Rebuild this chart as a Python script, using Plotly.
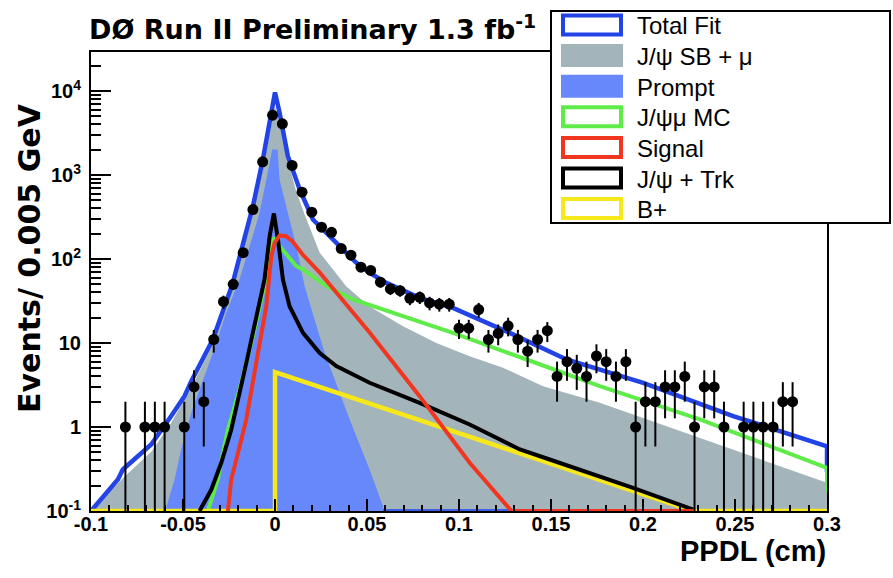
import math
import plotly.graph_objects as go

# ---------------------------------------------------------------------------
# Measured data: events per bin (bin centres in cm)
# ---------------------------------------------------------------------------
bin_x = [-0.0813, -0.0707, -0.0653, -0.0600, -0.0493, -0.0440, -0.0387, -0.0333,
         -0.0280, -0.0227, -0.0173, -0.0120, -0.0067, -0.0013, 0.0040, 0.0093,
         0.0147, 0.0200, 0.0253, 0.0307, 0.0360, 0.0413, 0.0467, 0.0520,
         0.0573, 0.0627, 0.0680, 0.0733, 0.0787, 0.0840, 0.0893, 0.0947,
         0.1000, 0.1053, 0.1107, 0.1160, 0.1213, 0.1267, 0.1320, 0.1373,
         0.1427, 0.1480, 0.1533, 0.1587, 0.1640, 0.1693, 0.1747, 0.1800,
         0.1853, 0.1907, 0.1960, 0.2013, 0.2067, 0.2120, 0.2173, 0.2227,
         0.2280, 0.2333, 0.2387, 0.2440, 0.2547, 0.2600, 0.2653, 0.2707,
         0.2760, 0.2813]
counts = [1, 1, 1, 1, 1, 3, 2, 11,
          31, 50, 119, 388, 1436, 5150, 4070, 1298,
          624, 361, 239, 208, 133, 111, 80, 73,
          53, 44, 42, 34, 35, 30, 29, 29,
          15, 15, 25, 11, 13, 16, 11, 8,
          11, 14, 4, 6, 5, 4, 7, 6,
          4, 6, 1, 2, 2, 3, 3, 4,
          1, 3, 3, 1, 1, 1, 1, 1,
          2, 2]

# ---------------------------------------------------------------------------
# Fit components (PPDL in cm, events per bin)
# ---------------------------------------------------------------------------
fit_x = [-0.1, -0.0854, -0.0827, -0.0673, -0.0564, -0.0492, -0.0455, -0.0338,
         -0.0232, -0.0193, -0.0120, -0.0066, -0.0029, 0.0, 0.0025, 0.0070,
         0.0134, 0.0206, 0.0297, 0.0388, 0.0442, 0.0514, 0.0605, 0.0786,
         0.0967, 0.1276, 0.1584, 0.2001, 0.2490, 0.3, 0.3]
fit_y = [0.1, 0.237, 0.312, 0.62, 1.35, 2.33, 3.51, 11.0,
         49.7, 108, 426, 1530, 4580, 9600, 5500, 1675,
         672, 295, 187, 119, 90, 68.5, 52, 34.5,
         26.2, 13.2, 6.36, 3.36, 1.35, 0.59, 0.29]

sb_x = [-0.1, -0.0823, -0.0671, -0.0563, -0.0454, -0.0335, -0.0232, -0.0188,
        -0.0117, -0.0062, -0.0024, 0.0, 0.0025, 0.0069, 0.0112, 0.0161,
        0.0243, 0.0388, 0.0514, 0.0696, 0.0877, 0.1058, 0.1239, 0.1457,
        0.1765, 0.2309, 0.3]
sb_y = [0.1, 0.25, 0.51, 1.13, 2.95, 9.9, 43, 93,
        367, 1300, 3670, 6500, 4200, 1520, 672, 339,
        119, 47, 27.2, 15.8, 10.0, 6.97, 5.07, 3.06,
        1.94, 0.74, 0.217]

prompt_x = [-0.0611, -0.0591, -0.0546, -0.0510, -0.0455, -0.0410, -0.0338, -0.0265,
            -0.0193, -0.0138, -0.0084, -0.0047, -0.0015, 0.0014, 0.0025, 0.0070,
            0.0116, 0.0161, 0.0270, 0.0406, 0.0514, 0.0587, 0.0590]
prompt_y = [0.1, 0.11, 0.237, 0.54, 1.49, 2.8, 7.6, 22.9,
            57, 142, 355, 884, 2013, 2013, 884, 355,
            142, 47.5, 7.6, 1.23, 0.312, 0.114, 0.1]

mc_x = [-0.0365, -0.0311, -0.0283, -0.0256, -0.0193, -0.0120, -0.0066, -0.0029,
        -0.0008, 0.0025, 0.0116, 0.0152, 0.0279, 0.0424, 0.0696, 0.0967,
        0.1367, 0.1765, 0.2309, 0.3, 0.3]
mc_y = [0.1, 0.237, 0.49, 0.93, 2.8, 12, 39.6, 104,
        180, 142, 82, 75, 47.5, 33, 20.8, 13.2,
        6.36, 3.06, 1.23, 0.327, 0.166]

sig_x = [-0.0256, -0.0238, -0.0210, -0.0156, -0.0102, -0.0047, -0.0033, -0.0020,
         -0.0002, 0.0025, 0.0061, 0.0097, 0.0150, 0.0243, 0.0514, 0.0786,
         0.1058, 0.1276, 0.1285, 0.2273]
sig_y = [0.1, 0.237, 0.41, 1.23, 5.8, 27.4, 57, 108,
         156, 190, 187, 160, 113, 69, 13.3, 2.33,
         0.375, 0.106, 0.1, 0.1]

trk_x = [-0.0410, -0.0346, -0.0292, -0.0238, -0.0156, -0.0084, -0.0057, -0.0029,
         -0.0006, 0.0016, 0.0034, 0.0043, 0.0079, 0.0152, 0.0243, 0.0333,
         0.0514, 0.0786, 0.1058, 0.1331, 0.1493, 0.1946, 0.2273]
trk_y = [0.1, 0.18, 0.375, 0.93, 5.8, 33, 57, 187,
         348, 171, 82, 57, 27.4, 13.2, 7.6, 5.3,
         3.36, 1.94, 1.07, 0.54, 0.41, 0.189, 0.104]

bp_x = [-0.1, 0.0, 0.0, 0.1330, 0.1765, 0.2273, 0.3]
bp_y = [0.1, 0.1, 4.5, 0.49, 0.237, 0.1, 0.1]

# prompt component sitting at the zero level after its tail ends
prompt_zero_x = [0.0587, 0.1285]
prompt_zero_y = [0.1, 0.1]

# axis ticks
x_tick_vals = [-0.1, -0.05, 0, 0.05, 0.1, 0.15, 0.2, 0.25, 0.3]
x_tick_text = ["-0.1", "-0.05", "0", "0.05", "0.1", "0.15", "0.2", "0.25", "0.3"]
y_tick_vals = [0.1, 1, 10, 100, 1000, 10000]
y_tick_text = ["10<sup>-1</sup>", "1", "10", "10<sup>2</sup>", "10<sup>3</sup>", "10<sup>4</sup>"]

legend_labels = ["Total Fit", "J/\u03c8 SB + \u03bc", "Prompt", "J/\u03c8\u03bc MC",
                 "Signal", "J/\u03c8 + Trk", "B+"]

# ---------------------------------------------------------------------------
# Style
# ---------------------------------------------------------------------------
BLUE = "#2243e6"
GRAY = "#a4b4bb"
PROMPT = "#6688fa"
GREEN = "#5fec48"
RED = "#f0361f"
BLACK = "#000000"
YELLOW = "#f7e81c"
FONT = "Liberation Sans"
TITLE_FONT = "DejaVu Sans"
FLOOR = 0.05  # fill baseline below the visible axis range

W, H = 893, 578
PL, PR, PT, PB = 91, 827, 52, 511  # plot-area edges in pixels


def px_x(px):
    return (px - PL) / (PR - PL)


def px_y(py):
    return (PB - py) / (PB - PT)


err_up = [math.sqrt(n) for n in counts]
err_dn = [n - max(n - math.sqrt(n), 0.01) for n in counts]

fig = go.Figure()

fig.add_trace(go.Scatter(
    x=sb_x + [sb_x[-1], sb_x[0]], y=sb_y + [FLOOR, FLOOR],
    fill="toself", fillcolor=GRAY, mode="lines", line=dict(width=0),
    hoverinfo="skip", showlegend=False))
fig.add_trace(go.Scatter(
    x=prompt_x + [prompt_x[-1], prompt_x[0]], y=prompt_y + [FLOOR, FLOOR],
    fill="toself", fillcolor=PROMPT, mode="lines", line=dict(width=0),
    hoverinfo="skip", showlegend=False))
fig.add_trace(go.Scatter(
    x=prompt_zero_x, y=prompt_zero_y, mode="lines",
    line=dict(color="#3d5ee8", width=4), showlegend=False, hoverinfo="skip"))
fig.add_trace(go.Scatter(
    x=fit_x, y=fit_y, mode="lines", line=dict(color=BLUE, width=4.5),
    showlegend=False))
fig.add_trace(go.Scatter(
    x=mc_x, y=mc_y, mode="lines", line=dict(color=GREEN, width=4),
    showlegend=False))
fig.add_trace(go.Scatter(
    x=bp_x, y=bp_y, mode="lines", line=dict(color=YELLOW, width=4.5),
    showlegend=False))
fig.add_trace(go.Scatter(
    x=trk_x, y=trk_y, mode="lines", line=dict(color=BLACK, width=4),
    showlegend=False))
fig.add_trace(go.Scatter(
    x=sig_x, y=sig_y, mode="lines", line=dict(color=RED, width=4),
    showlegend=False))
fig.add_trace(go.Scatter(
    x=bin_x, y=counts, mode="markers",
    marker=dict(color="black", size=11),
    error_y=dict(type="data", array=err_up, arrayminus=err_dn,
                 color="black", thickness=2, width=0),
    showlegend=False))

# ---------------------------------------------------------------------------
# Hand-drawn legend box (above the plot frame)
# ---------------------------------------------------------------------------
shapes = [dict(type="rect", xref="paper", yref="paper",
               x0=px_x(551), x1=px_x(890), y0=px_y(223), y1=px_y(11),
               fillcolor="white", line=dict(color="black", width=2), layer="above")]
legend_styles = [(BLUE, False), (GRAY, True), (PROMPT, True), (GREEN, False),
                 (RED, False), (BLACK, False), (YELLOW, False)]
annotations = []
for i, (label, (col, filled)) in enumerate(zip(legend_labels, legend_styles)):
    cy = 25 + i * 30.6
    shapes.append(dict(
        type="rect", xref="paper", yref="paper",
        x0=px_x(563), x1=px_x(621), y0=px_y(cy + 9.5), y1=px_y(cy - 9.5),
        fillcolor=col if filled else "white",
        line=dict(color=col, width=4), layer="above"))
    annotations.append(dict(
        text=label, xref="paper", yref="paper", x=px_x(635), y=px_y(cy + 1),
        xanchor="left", yanchor="middle", showarrow=False,
        font=dict(family=FONT, size=24, color="black")))

annotations += [
    dict(text="D\u00d8 Run II Preliminary 1.3 fb<sup>-1</sup>", xref="paper", yref="paper",
         x=px_x(87), y=px_y(28), xanchor="left", yanchor="middle", showarrow=False,
         font=dict(family=TITLE_FONT, size=27, color="black", weight="bold")),
    dict(text="Events/ 0.005 GeV", xref="paper", yref="paper",
         x=px_x(29), y=px_y(258), xanchor="center", yanchor="middle", textangle=-90,
         showarrow=False, font=dict(family=TITLE_FONT, size=30, color="black", weight="bold")),
    dict(text="PPDL (cm)", xref="paper", yref="paper",
         x=px_x(828), y=px_y(551), xanchor="right", yanchor="middle", showarrow=False,
         font=dict(family=FONT, size=29, color="black", weight="bold")),
]

fig.update_layout(
    width=W, height=H,
    margin=dict(l=PL, r=W - PR, t=PT, b=H - PB, pad=0),
    paper_bgcolor="white", plot_bgcolor="white",
    showlegend=False,
    shapes=shapes, annotations=annotations,
    xaxis=dict(
        range=[-0.1, 0.3], tickmode="array", tickvals=x_tick_vals, ticktext=x_tick_text,
        ticks="inside", ticklen=12, tickwidth=1.5, tickcolor="black",
        showline=True, linecolor="black", linewidth=2, mirror=True,
        showgrid=False, zeroline=False, ticklabelstandoff=-6,
        tickfont=dict(family=FONT, size=20, color="black", weight="bold"),
        minor=dict(ticks="inside", ticklen=6, dtick=0.01, tick0=0,
                   tickcolor="black", tickwidth=1.5, showgrid=False),
    ),
    yaxis=dict(
        type="log", range=[-1, 4.464], tickmode="array",
        tickvals=y_tick_vals, ticktext=y_tick_text,
        ticks="inside", ticklen=20, tickwidth=2, tickcolor="black",
        showline=True, linecolor="black", linewidth=2, mirror=True,
        showgrid=False, zeroline=False, ticklabelstandoff=4,
        tickfont=dict(family=FONT, size=20, color="black", weight="bold"),
        minor=dict(ticks="inside", ticklen=10, dtick="D1",
                   tickcolor="black", tickwidth=1.5, showgrid=False),
    ),
)

fig.write_html("out.html")
